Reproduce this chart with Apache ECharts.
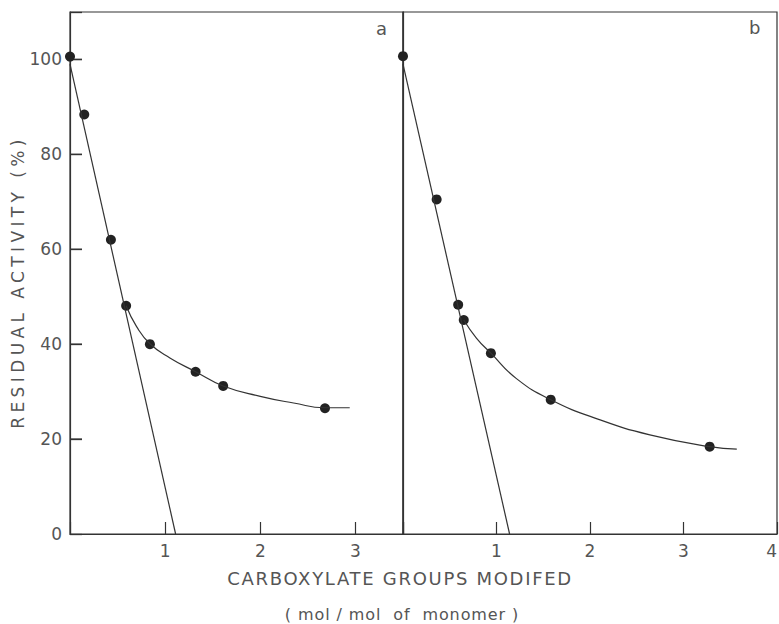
<!DOCTYPE html>
<html>
<head>
<meta charset="utf-8">
<script src="https://cdn.jsdelivr.net/npm/echarts@6/dist/echarts.min.js"></script>
<style>
  html, body { margin: 0; padding: 0; background: #fff; }
  #chart { width: 779px; height: 624px; }
</style>
</head>
<body>
<div id="chart"></div>
<script>
// Panel a: measured points (mol/mol, % residual activity)
const pointsA = [[0, 100.6], [0.15, 88.4], [0.43, 62.0], [0.59, 48.1], [0.84, 40.0], [1.32, 34.2], [1.61, 31.2], [2.68, 26.5]];
// Panel a: initial-slope line and fitted curve
const lineA = [[0, 99], [1.11, 0]];
const curveA = [[0.59, 48.1], [0.70, 43.7], [0.84, 40.1], [1.05, 37.1], [1.32, 34.2], [1.61, 31.2], [2.0, 29.0], [2.35, 27.6], [2.68, 26.6], [2.94, 26.6]];

// Panel b: measured points
const pointsB = [[0, 100.7], [0.36, 70.5], [0.59, 48.3], [0.65, 45.1], [0.94, 38.1], [1.58, 28.3], [3.28, 18.4]];
// Panel b: initial-slope line and fitted curve
const lineB = [[0, 99], [1.14, 0]];
const curveB = [[0.65, 45.1], [0.785, 41.3], [0.94, 38.1], [1.21, 32.8], [1.58, 28.3], [2.10, 24.1], [2.64, 20.9], [3.28, 18.4], [3.57, 17.9]];

const yTicks = [0, 20, 40, 60, 80, 100];
const xTicksA = [1, 2, 3];
const xTicksB = [1, 2, 3, 4];
const panelLabels = ['a', 'b'];
const xTitle = 'CARBOXYLATE GROUPS MODIFED';
const xUnit = '( mol / mol  of  monomer )';
const yTitle = 'RESIDUAL ACTIVITY (%)';

const FONT = 'DejaVu Sans';
const TXT = '#555';
const INK = '#333';

const chart = echarts.init(document.getElementById('chart'), null, { renderer: 'svg' });

function xAxisFor(gridIndex, max, shown) {
  return {
    type: 'value', gridIndex, min: 0, max, interval: 1,
    axisLine: { show: true, lineStyle: { color: INK, width: 1.2 } },
    axisTick: { show: true, inside: true, length: 12, lineStyle: { color: INK, width: 1.2 } },
    axisLabel: {
      color: TXT, fontFamily: FONT, fontSize: 17, margin: 8, alignMaxLabel: 'right',
      formatter: v => (shown.indexOf(v) >= 0 ? String(v) : '')
    },
    splitLine: { show: false }
  };
}

const curveStyle = { color: INK, width: 1.2 };

chart.setOption({
  animation: false,
  grid: [
    { left: 70, top: 12, width: 333, height: 522, show: true, borderColor: INK, borderWidth: 1.2, outerBoundsMode: 'none' },
    { left: 403, top: 12, width: 374, height: 522, show: true, borderColor: INK, borderWidth: 1.2, outerBoundsMode: 'none' }
  ],
  xAxis: [xAxisFor(0, 3.5, xTicksA), xAxisFor(1, 4, xTicksB)],
  yAxis: [
    {
      type: 'value', gridIndex: 0, min: 0, max: 110, interval: 20,
      axisLine: { show: true, lineStyle: { color: INK, width: 1.2 } },
      axisTick: { show: true, inside: true, length: 12, lineStyle: { color: INK, width: 1.3 } },
      axisLabel: {
        color: TXT, fontFamily: FONT, fontSize: 17, margin: 8,
        formatter: v => (yTicks.indexOf(v) >= 0 ? String(v) : '')
      },
      splitLine: { show: false }
    },
    {
      type: 'value', gridIndex: 1, min: 0, max: 110,
      axisLine: { show: true, lineStyle: { color: INK, width: 1.2 } },
      axisTick: { show: false }, axisLabel: { show: false }, splitLine: { show: false }
    }
  ],
  series: [
    // Inward tick marks on panel a's left axis: thin bars anchored at x = 0
    {
      type: 'scatter', xAxisIndex: 0, yAxisIndex: 0, silent: true, z: 1,
      data: yTicks.filter(v => v > 0).map(v => [0, v]),
      symbol: 'rect', symbolSize: [12, 1.4], symbolOffset: [6, 0],
      itemStyle: { color: INK, opacity: 1 }
    },
    { type: 'line', xAxisIndex: 0, yAxisIndex: 0, data: lineA, symbol: 'none', lineStyle: curveStyle },
    { type: 'line', xAxisIndex: 0, yAxisIndex: 0, data: curveA, symbol: 'none', smooth: 0.5, lineStyle: curveStyle },
    { type: 'scatter', xAxisIndex: 0, yAxisIndex: 0, data: pointsA, symbolSize: 10, itemStyle: { color: '#222', opacity: 1 } },
    { type: 'line', xAxisIndex: 1, yAxisIndex: 1, data: lineB, symbol: 'none', lineStyle: curveStyle },
    { type: 'line', xAxisIndex: 1, yAxisIndex: 1, data: curveB, symbol: 'none', smooth: 0.5, lineStyle: curveStyle },
    { type: 'scatter', xAxisIndex: 1, yAxisIndex: 1, data: pointsB, symbolSize: 10, itemStyle: { color: '#222', opacity: 1 } }
  ],
  graphic: [
    { type: 'text', left: 376, top: 19, style: { text: panelLabels[0], fill: TXT, font: '18px ' + FONT } },
    { type: 'text', left: 749, top: 18, style: { text: panelLabels[1], fill: TXT, font: '18px ' + FONT } },
    { type: 'text', x: 400, y: 578, style: { text: xTitle, fill: TXT, font: '18px ' + FONT, textAlign: 'center', textVerticalAlign: 'middle' } },
    { type: 'text', x: 402, y: 614, style: { text: xUnit, fill: TXT, font: '16px ' + FONT, textAlign: 'center', textVerticalAlign: 'middle' } },
    { type: 'text', x: 18, y: 282, rotation: Math.PI / 2, style: { text: yTitle, fill: TXT, font: '17px ' + FONT, textAlign: 'center', textVerticalAlign: 'middle' } }
  ]
});

// Widen the tracking of the axis titles (spaced-out lettering)
const tracking = {};
tracking[xTitle] = '1.7px';
tracking[xUnit] = '0.9px';
tracking[yTitle] = '4.4px';
function applyTracking() {
  document.querySelectorAll('#chart svg text').forEach(t => {
    const ls = tracking[t.textContent];
    if (ls) t.style.letterSpacing = ls;
  });
}
applyTracking();
chart.on('finished', applyTracking);
</script>
</body>
</html>
